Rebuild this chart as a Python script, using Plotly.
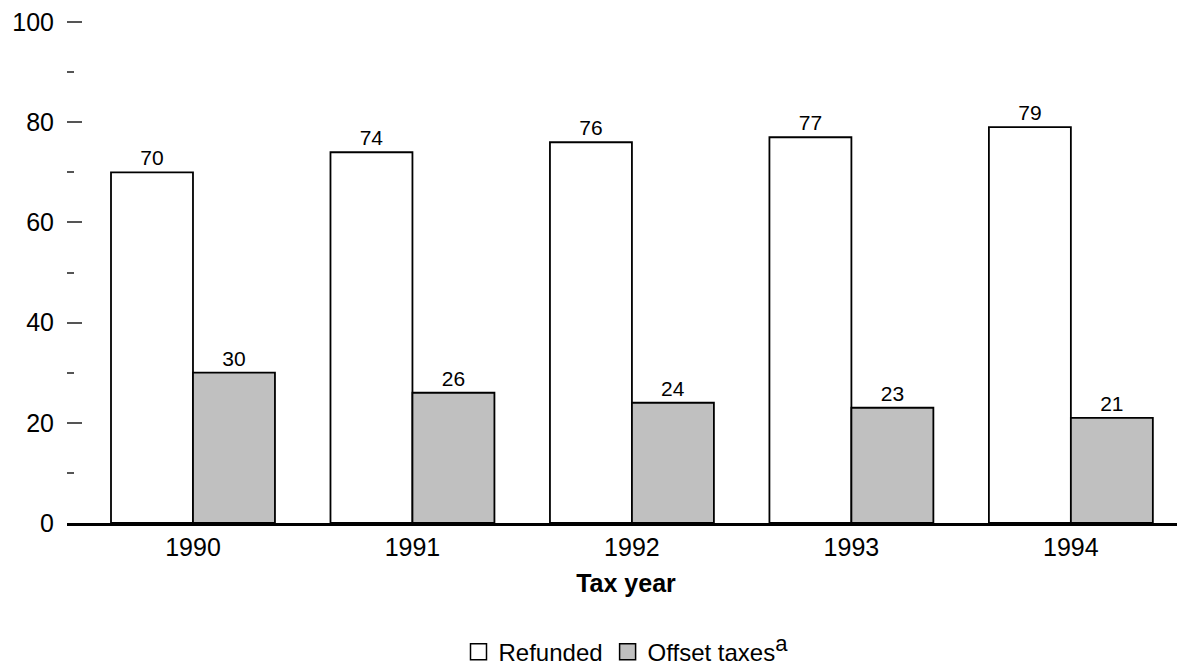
import plotly.graph_objects as go

years = ["1990", "1991", "1992", "1993", "1994"]
refunded = [70, 74, 76, 77, 79]
offset_taxes = [30, 26, 24, 23, 21]
y_ticks = [0, 20, 40, 60, 80, 100]

FONT = "Liberation Sans, Arial, sans-serif"

fig = go.Figure()
fig.add_trace(go.Bar(
    x=years, y=refunded, name="Refunded",
    marker=dict(color="white", line=dict(color="black", width=1.8)),
    text=[str(v) for v in refunded], textposition="outside",
    textfont=dict(size=21, color="black", family=FONT),
    cliponaxis=False, showlegend=False,
))
fig.add_trace(go.Bar(
    x=years, y=offset_taxes, name="Offset taxes",
    marker=dict(color="#C0C0C0", line=dict(color="black", width=1.8)),
    text=[str(v) for v in offset_taxes], textposition="outside",
    textfont=dict(size=21, color="black", family=FONT),
    cliponaxis=False, showlegend=False,
))
# legend entries
fig.add_trace(go.Scatter(
    x=[None], y=[None], mode="markers", name="Refunded",
    marker=dict(symbol="square", size=16, color="white", line=dict(color="black", width=1.5)),
))
fig.add_trace(go.Scatter(
    x=[None], y=[None], mode="markers",
    name="Offset taxes<sup><span style='font-size:22px'>a</span></sup>",
    marker=dict(symbol="square", size=16, color="#C0C0C0", line=dict(color="black", width=1.5)),
))

# page body has an 8px margin, so the figure is drawn at (8, 8)
fig.update_layout(
    width=1177, height=661,
    margin=dict(l=59, r=0, t=9, b=146, autoexpand=False),
    paper_bgcolor="white", plot_bgcolor="white",
    font=dict(family=FONT, size=25, color="black"),
    barmode="group", bargap=0.253, bargroupgap=0,
    showlegend=True,
    legend=dict(orientation="h", x=0.5, xanchor="center", y=-0.255, yanchor="middle",
                font=dict(size=24), itemwidth=30, tracegroupgap=0,
                bgcolor="rgba(0,0,0,0)"),
)
fig.update_xaxes(
    type="category", range=[-0.574, 4.52], automargin=False,
    showline=True, linecolor="black", linewidth=3,
    ticks="", showgrid=False, zeroline=False,
    tickfont=dict(size=25),
    title=dict(text="<b>Tax year</b>", font=dict(size=25), standoff=15),
)
fig.update_yaxes(
    range=[0, 101], tickvals=y_ticks, automargin=False,
    showgrid=False, zeroline=False, showline=False,
    ticks="inside", ticklen=15, tickwidth=1.5, tickcolor="#555",
    ticklabelstandoff=12, ticklabeloverflow="allow",
    tickfont=dict(size=25),
    minor=dict(dtick=10, ticks="inside", ticklen=7, tickwidth=1.5, tickcolor="#555", showgrid=False),
)

fig.write_html("out.html")
